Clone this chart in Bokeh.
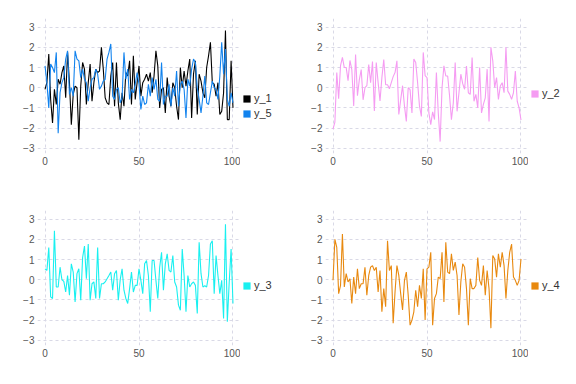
from bokeh.plotting import figure
from bokeh.layouts import gridplot
from bokeh.models import Range1d, Legend, LegendItem, FixedTicker
from bokeh.embed import file_html
from bokeh.resources import INLINE

x = list(range(101))

y_1 = [-0.08, 0.25, 1.67, -0.58, -1.75, -0.08, -0.83, 0.42, 0.17, 0.75, 1.08, -0.5, 1.75, 0.25, -1.83,
       -0.33, 0.08, 0.0, -2.58, 0.08, 1.25, 0.92, -0.83, 0.25, 1.17, -0.67, 0.25, 0.92, 0.75, 0.83, 2.0,
       0.92, -0.5, -0.75, -0.83, 0.58, 1.25, -0.92, 1.25, -0.75, -1.58, -0.25, -0.92, 0.75, 0.58, 1.33,
       -0.83, 1.58, -0.58, 0.25, 1.08, -0.42, 0.25, 0.42, 0.67, 0.33, 0.75, -0.25, 0.58, 1.83, 1.08,
       -1.0, -0.08, 0.0, -1.25, 0.5, -0.42, -0.92,
       0.25, 0.0, -0.92, -1.58, 1.0, 0.0, 0.83, 0.08, 0.83, 1.42, -1.5, 0.67, 1.33, -1.33, 0.67, 0.33,
       -0.25, -0.5, 1.0, 1.58, 2.25, 0.25, 0.17, -0.42, 0.25, -1.33, -1.17, -0.25, 2.83, -1.58, -1.58,
       1.33, -1.0]

y_5 = [1.08, 0.25, -1.0, 1.17, 1.0, 0.75, 1.75, -2.25, -0.25, 0.25, 0.5, 1.42, 1.83, -0.33, 0.0,
       -0.42, 1.83, 1.42, 1.33, 0.5, 0.92, 0.42, 0.25, -0.67, 0.0, 0.42, 0.5, 0.92, 0.67, -0.08, 0.08,
       0.33, 0.42, 1.42, 1.75, 2.17, -0.42, -0.58, -0.08, 0.0, -0.75, -0.5, 1.75, 0.42, 0.92, -0.58,
       -0.08, -0.25, 0.17, 0.75, 0.17, -1.08, -0.42, -0.83, -0.75, 0.17, -0.42, 0.5, -0.08, 0.42, -0.58,
       -0.67, 1.25, -0.83, -0.42, -0.42, 0.17, -0.92,
       0.0, -0.42, 0.83, -0.92, 0.17, 0.33, -0.08, -1.5, 0.42, 0.08, 0.92, 1.42, 1.25, 0.0, -0.58, -1.25,
       -0.42, 0.58, -0.75, -0.83, -0.25, 0.33, 0.0, -0.08, -0.58, 0.58, 2.25, 0.67, 1.92, -0.58, -0.92,
       -0.25, -0.75]

y_2 = [-2.05, -1.7, 0.75, -0.55, 1.1, 1.5, 1.0, 1.0, 0.35, 1.35, 0.9, -0.9, 1.65, -0.4, 0.4, 0.9,
       -0.6, 0.0, 0.1, 1.15, 0.25, 1.3, -1.15, 1.25, 0.25, -0.65, 0.5, 1.4, 0.15, 0.15, -0.05, 0.25,
       0.55, 0.75, 1.33, -1.33, -0.6, 0.1, -0.9, -1.67, 0.0, -0.1, -1.25, 1.42, 1.25, 0.25, -0.9, -1.42,
       1.75, 0.6, 0.5, -1.25, -1.83, -1.2, -1.58, 0.75, -1.25, -2.67, 0.0, 1.08, 0.58, 0.58, -0.4, -1.58,
       -0.75, 1.25, -1.17, -0.25, 0.67, 0.2, -0.08, 1.08, -0.25, -0.33, 1.5, -0.67, -0.33, -1.0, 1.0,
       -1.25, -0.83, -0.5, 0.92, -1.67, 2.0, 1.33, 0.0, 0.5, -0.58, 0.08, 0.25, -0.25, 2.0, -0.17,
       -0.33, -0.58, -0.25, 0.83, -0.67, -1.0, -1.6]

y_3 = [0.54, 0.46, 1.6, -0.85, -0.93, 2.43, -0.36, -0.36, 0.62, 0.0, -0.08, -0.61, 0.21, -0.77, 0.79,
       0.38, -1.1, 0.3, 0.54, -1.02, 1.1, 1.67, 0.05, 1.77, -1.02, -0.2, -0.11, -0.93, 1.6, -0.93, -0.2,
       -0.2, -0.11, 0.05, 0.21, 0.38, -0.52, 0.3, 0.46, -1.02, 0.0, 0.54, -0.52, -0.93, -1.18, -0.44,
       0.38, -0.61, -0.28, -0.28, 0.54, -0.03, -0.69, 0.79, 0.95, 0.21, -1.59, 0.95, 0.95, -0.03, -0.93,
       0.62, 1.36, -0.52, 0.79, 1.28, 0.46,
       0.38, 1.2, -0.11, -0.36, -1.26, -1.51, 1.52, 0.21, -1.59, 0.21, -0.36, -0.2, -0.11, -0.28, -1.67,
       1.85, 0.3, -0.36, -0.3, -0.36, 0.21, 1.77, 1.93, -0.69, 1.2, 0.21, -0.69, -0.03, -1.92, 2.75,
       -2.08, -0.11, 1.52, -1.18]

y_4 = [-0.03, 2.0, 1.6, -0.69, -0.28, 2.26, -0.36, 0.3, -0.11, 0.05, -1.18, 0.13, -0.69, 0.54, -0.44,
       -0.2, -0.2, 0.62, -0.77, 0.21, 0.62, 0.7, 0.46, 0.62, -0.61, 0.46, -1.59, -0.44, -1.34, 1.93,
       0.46, 0.7,
       -2.16, -0.6, 0.7, 0.21, -0.69, -1.5, -0.05, 0.38, -0.77, -2.25, -2.0, -1.59, -0.52, -1.34, -0.28,
       -0.93, 0.54, -2.0, 0.54, 0.62, 1.36, -2.25, -0.93, -0.69, 0.13, 0.05, 1.36, -1.1, 1.85, 0.38, 0.3,
       1.28, 0.46, 0.87, 0.21, -1.75, -0.11,
       0.79, 0.62, -0.44, -2.25, 0.05, -0.44, -0.44, -0.28, 1.1, -0.03, -0.28, 0.7, -0.77, 0.46, -0.44,
       -2.4, 1.2, 1.03, 0.13, 1.28, 0.62, 1.36, 0.7, -0.93, 0.46, 1.36, 1.77, 0.13, -0.03, -0.28, -0.03,
       1.03]

x_ticks = [0, 50, 100]
y_ticks = [-3, -2, -1, 0, 1, 2, 3]

FONT = "Liberation Sans"
GRID = "#d9d9e6"
TICK_TEXT = "#555555"

FRAME_W, FRAME_H = 203, 135
ROW_H = 192
BT = 18
BB = ROW_H - BT - FRAME_H
BL = 37
LEG_W = 48


def panel(series):
    p = figure(width=BL + FRAME_W, height=ROW_H, x_range=Range1d(-4, 104), y_range=Range1d(-3.26, 3.43),
               output_backend="svg", toolbar_location=None,
               min_border_left=BL, min_border_right=0, min_border_top=BT, min_border_bottom=BB)
    p.outline_line_color = None
    for ax in (p.xaxis[0], p.yaxis[0]):
        ax.axis_line_color = None
        ax.major_tick_line_color = None
        ax.minor_tick_line_color = None
        ax.major_tick_out = 0
        ax.major_label_text_font = FONT
        ax.major_label_text_font_size = "10px"
        ax.major_label_text_color = TICK_TEXT
    p.xaxis.ticker = FixedTicker(ticks=x_ticks)
    p.yaxis.ticker = FixedTicker(ticks=y_ticks)
    p.xaxis.major_label_standoff = 3
    p.yaxis.major_label_standoff = 3
    for g in (p.xgrid[0], p.ygrid[0]):
        g.grid_line_color = GRID
        g.grid_line_dash = "3 3"
        g.grid_line_width = 1
    for name, ys, color in series:
        p.line(x, ys, line_color=color, line_width=1.1)
    return p


def legend_fig(series, legend_y):
    lf = figure(width=LEG_W, height=ROW_H, x_range=Range1d(0, 1), y_range=Range1d(0, 1),
                x_axis_type=None, y_axis_type=None, output_backend="svg", toolbar_location=None,
                min_border=0, min_border_left=0, min_border_right=0, min_border_top=BT,
                min_border_bottom=BB)
    lf.outline_line_color = None
    items = []
    for name, ys, color in series:
        sq = lf.quad(left=x, right=x, top=ys, bottom=ys, fill_color=color, line_color=None,
                     visible=False)
        items.append(LegendItem(label=name, renderers=[sq]))
    leg = Legend(items=items, location=(2, legend_y), glyph_width=9, glyph_height=9,
                 label_height=10, label_standoff=3, spacing=3, padding=0, margin=0,
                 border_line_color=None, background_fill_alpha=0, inactive_fill_alpha=0,
                 label_text_font=FONT, label_text_font_size="11px", label_text_color="#333333")
    lf.add_layout(leg)
    return lf


s1 = [("y_1", y_1, "#000000"), ("y_5", y_5, "#1283ee")]
s2 = [("y_2", y_2, "#f59cf2")]
s3 = [("y_3", y_3, "#19f0f0")]
s4 = [("y_4", y_4, "#e8890f")]

p1, l1 = panel(s1), legend_fig(s1, 34)
p2, l2 = panel(s2), legend_fig(s2, 54)
p3, l3 = panel(s3), legend_fig(s3, 54)
p4, l4 = panel(s4), legend_fig(s4, 54)

grid = gridplot([[p1, l1, p2, l2], [p3, l3, p4, l4]], toolbar_location=None)

open("out.html", "w").write(file_html(grid, INLINE))
